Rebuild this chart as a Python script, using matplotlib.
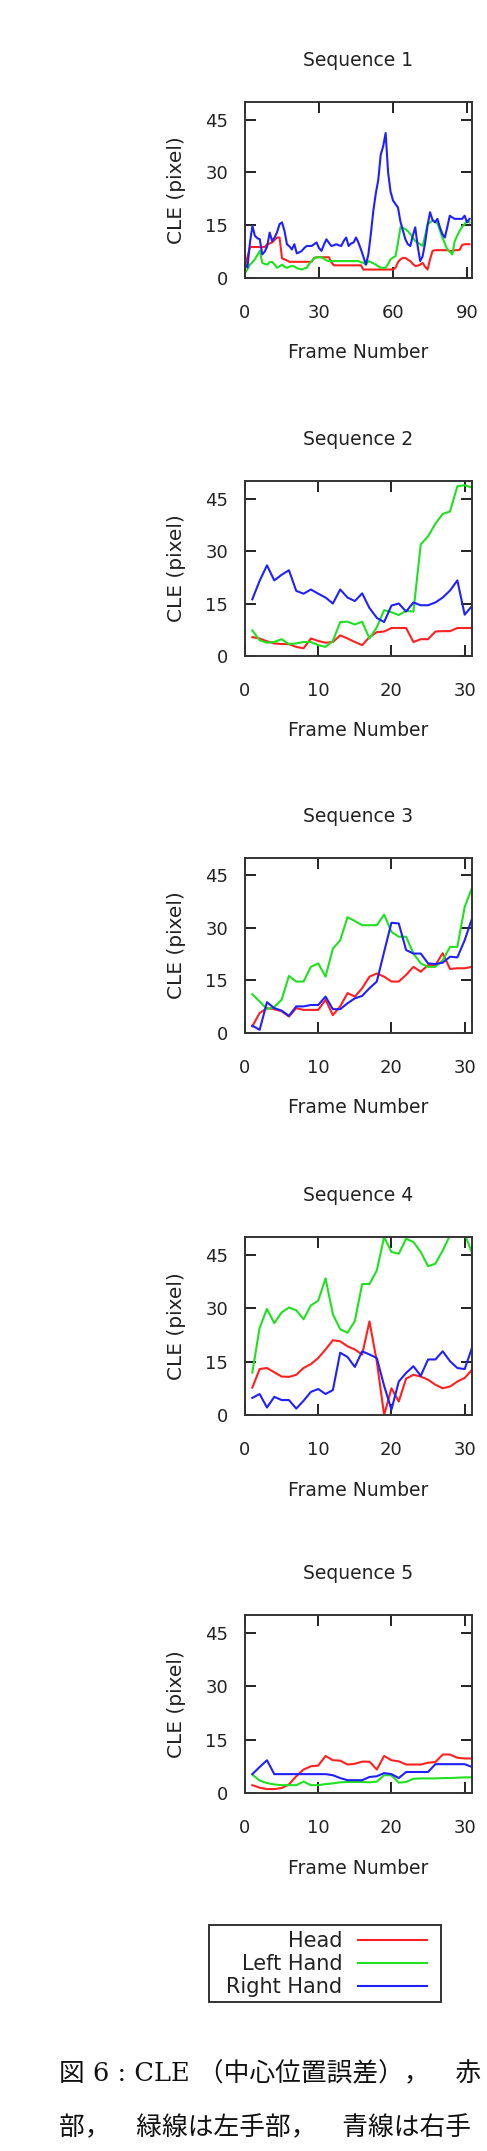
import numpy as np
import matplotlib.pyplot as plt
from matplotlib.patches import Rectangle

# CLE (pixel) per frame
seq1_head = [3, 6, 8.8, 8.8, 8.8, 8.8, 8.8, 8.8, 8.8, 9.6, 9.8, 10.1, 10.8, 11.5, 11.5, 5.6,
             5.3, 5, 4.6, 4.6, 4.6, 4.6, 4.6, 4.6, 4.6, 4.6, 4.6, 4.6, 5.7, 5.9, 5.9, 5.9,
             5.9, 5.9, 5.9, 4.5, 3.6, 3.6, 3.6, 3.6, 3.6, 3.6, 3.6, 3.6, 3.6, 3.6, 3.6, 3.6,
             2.4, 2.4, 2.4, 2.4, 2.4, 2.4, 2.4, 2.4, 2.4, 2.4, 2.4, 2.4, 2.4, 2.9, 4.5, 5.3,
             5.7, 5.7, 5.2, 4.8, 4, 3.4, 3.5, 3.8, 4.3, 3.2, 2.4, 5.3, 7.7, 7.9, 7.9, 7.9,
             7.9, 7.9, 7.9, 7.7, 7.7, 7.9, 7.9, 8, 9.4, 9.6, 9.6, 9.6]
seq1_left = [1.4, 2.5, 3.8, 4.5, 5.3, 6.5, 7.7, 4.3, 4, 3.8, 4.5, 4.6, 3.8, 2.9, 3.3, 3.8,
             3.2, 2.9, 3.2, 3.4, 3.3, 2.8, 2.6, 2.4, 2.7, 2.9, 4, 4.8, 5.5, 5.9, 5.9, 5.9,
             5.5, 5, 4.8, 4.8, 4.8, 4.8, 4.8, 4.8, 4.8, 4.8, 4.8, 4.8, 4.8, 4.8, 4.8, 4.5,
             4.3, 3.8, 4.8, 4.5, 4.2, 3.8, 3.3, 2.9, 2.9, 2.9, 4, 5.3, 5.8, 6.2, 10, 14.4,
             14.2, 13.9, 13.3, 12.5, 11.5, 10.5, 10, 9.6, 9.1, 12, 15.3, 15.8, 16.3, 16, 15.5, 13.5,
             11.5, 9.8, 8.1, 7.5, 6.7, 10.5, 12, 13.4, 14.5, 15.3, 16.3, 15.8]
seq1_right = [3.8, 3, 10, 14.8, 12, 11.3, 11, 6.7, 7.5, 9, 12.9, 10.5, 11.5, 13, 15.3, 15.8,
              13.4, 9.6, 9, 8.1, 9.6, 7, 7.3, 7.7, 8.5, 9.1, 9.1, 9.1, 9.6, 10.1, 8.5, 7.7,
              9.5, 11, 10, 9.1, 9.3, 9.6, 9.3, 9.1, 10.5, 11.5, 9.1, 9.8, 10.1, 11.5, 10, 8.1,
              6, 3.8, 6.7, 12.5, 19, 24, 27.8, 35, 37.4, 41.2, 30, 24.5, 22, 21, 20, 16,
              13.5, 11, 9.6, 9.1, 12, 14.4, 9, 4.8, 6.2, 10, 15, 18.7, 16.5, 15.8, 16.8, 14.4,
              12.5, 11.5, 14.5, 17.7, 17.2, 16.8, 16.8, 16.8, 16.8, 17.7, 15.8, 16.8]

seq2_head = [5.4, 5, 4.2, 3.6, 3.4, 3.4, 2.6, 2.2, 5, 4.3, 3.8, 4, 5.9, 5, 4, 3.1,
             5.4, 6.8, 7, 8, 8, 8, 4, 4.8, 4.8, 7, 7.1, 7.1, 8, 8, 8]
seq2_left = [7.3, 4.5, 3.8, 4, 4.8, 3.4, 3.6, 4, 4, 3.1, 2.6, 4.3, 9.7, 9.8, 9, 9.8,
             5, 8.2, 13.1, 12.5, 11.7, 12.9, 12.7, 31.9, 34.2, 37.8, 40.6, 41.3, 48.5, 48.8, 48.1]
seq2_right = [16.2, 21.5, 25.9, 21.6, 23.2, 24.5, 18.6, 17.8, 19, 17.8, 16.7, 15, 19, 16.7, 15.7, 17.9,
              13.7, 10.9, 9.7, 14.4, 15, 12.7, 15.3, 14.5, 14.5, 15.3, 16.7, 18.7, 21.6, 11.8, 14.3]

seq3_head = [1.9, 5.7, 7.1, 6.8, 6.2, 4.7, 7.1, 6.6, 6.6, 6.6, 9.5, 5.1, 7.6, 11.4, 10.4, 12.8,
             16.1, 17, 16.1, 14.7, 14.7, 16.6, 18.9, 17.5, 19.4, 19.4, 22.8, 18.3, 18.5, 18.5, 18.9]
seq3_left = [11.1, 9, 6.8, 7.4, 9.5, 16.3, 14.7, 14.7, 18.9, 19.9, 16.1, 24.1, 26.5, 33.1, 32, 30.8,
             30.8, 30.8, 33.8, 28.9, 27.5, 27.5, 22.7, 19.9, 18.9, 18.9, 20.8, 24.6, 24.6, 36, 41.5]
seq3_right = [2.1, 0.9, 8.8, 7.1, 6.4, 4.9, 7.6, 7.6, 8, 8, 10.4, 6.8, 6.8, 8.5, 9.9, 10.6,
              12.8, 14.7, 23.2, 31.5, 31.3, 23.7, 22.7, 22.7, 19.9, 19.7, 20.1, 21.8, 21.6, 26.5, 32.7]

seq4_head = [7.7, 12.9, 13.2, 12, 10.8, 10.7, 11.3, 13.2, 14.3, 16, 18.4, 21, 20.7, 19.3, 18.4, 17,
             26.3, 15, 0, 7.5, 3.8, 10.2, 11.3, 10.8, 9.9, 8.5, 7.5, 8, 9.4, 10.4, 12.7]
seq4_left = [11.9, 24.5, 29.8, 25.8, 28.8, 30.2, 29.4, 26.9, 30.8, 32.1, 38.4, 28.3, 24.1, 23.1, 26.4, 36.8,
             36.8, 40.6, 50, 45.8, 45.3, 49.5, 48.6, 45.8, 41.8, 42.5, 46.2, 50.5, 54, 51, 45.5]
seq4_right = [4.8, 5.9, 2.1, 5.1, 4.2, 4.2, 1.8, 4, 6.5, 7.3, 5.9, 7, 17.5, 16.3, 13.5, 17.9,
              17, 16, 8.2, 1.5, 9.4, 11.8, 13.7, 11, 15.6, 15.6, 17.9, 15.1, 13.2, 12.9, 18.9]

seq5_head = [2.2, 1.5, 1.1, 1.1, 1.4, 2.4, 4.7, 6.6, 7.5, 7.7, 10.4, 9.2, 9.1, 8, 8.2, 8.8,
             8.8, 6.6, 10.4, 9.2, 8.9, 8, 8, 8, 8.5, 8.7, 10.8, 10.8, 9.9, 9.7, 9.7]
seq5_left = [5.2, 3.5, 2.8, 2.4, 2.2, 2.2, 2.2, 3.2, 2.2, 2.2, 2.5, 2.7, 3, 3.1, 3.1, 3.1,
             3, 3.2, 5, 5, 2.9, 3.1, 4, 4.1, 4.1, 4.1, 4.2, 4.2, 4.3, 4.4, 4.4]
seq5_right = [5.3, 7.3, 9.2, 5.3, 5.3, 5.3, 5.3, 5.3, 5.3, 5.3, 5.3, 5, 4.2, 3.6, 3.6, 3.6,
              4.5, 4.7, 5.6, 5.3, 4.2, 5.9, 5.9, 5.9, 5.9, 8.1, 8.1, 8.1, 8.1, 8.1, 7.3]

titles = ['Sequence 1', 'Sequence 2', 'Sequence 3', 'Sequence 4', 'Sequence 5']
series_labels = ['Head', 'Left Hand', 'Right Hand']
colors = ['#ff2020', '#20e020', '#2020ff']
x_ticks = [[0, 30, 60, 90], [0, 10, 20, 30], [0, 10, 20, 30], [0, 10, 20, 30], [0, 10, 20, 30]]
x_max = [92, 31, 31, 31, 31]
y_ticks = [0, 15, 30, 45]

data = [
    (seq1_head, seq1_left, seq1_right),
    (seq2_head, seq2_left, seq2_right),
    (seq3_head, seq3_left, seq3_right),
    (seq4_head, seq4_left, seq4_right),
    (seq5_head, seq5_left, seq5_right),
]

W, H = 487, 2151
fig = plt.figure(figsize=(W / 100, H / 100), dpi=100)
txt = '#222222'

# axes frames in pixels (top, bottom)
frames = [(102, 278), (481, 656), (858, 1033), (1237, 1415), (1615, 1793)]
left_px, right_px = 245, 472

for i, (top, bot) in enumerate(frames):
    ax = fig.add_axes([left_px / W, 1 - bot / H, (right_px - left_px) / W, (bot - top) / H])
    for vals, c in zip(data[i], colors):
        x = np.arange(len(vals)) if i == 0 else np.arange(1, len(vals) + 1)
        ax.plot(x, vals, color=c, lw=1.5)
    ax.set_xlim(0, x_max[i])
    ax.set_ylim(0, 50)
    ax.set_xticks(x_ticks[i])
    ax.set_yticks(y_ticks)
    ax.tick_params(direction='in', length=8, width=1.4, top=True, right=True,
                   labelsize=13, colors=txt)
    ax.tick_params(axis='x', pad=19)
    ax.tick_params(axis='y', pad=12)
    for s in ax.spines.values():
        s.set_linewidth(1.4)
        s.set_color('#333333')
    ax.set_title(titles[i], fontsize=13.5, color=txt, pad=26)
    ax.set_xlabel('Frame Number', fontsize=13.5, color=txt)
    ax.xaxis.set_label_coords(0.5, -0.37)
    ax.xaxis.label.set_va('top')
    ax.set_ylabel('CLE (pixel)', fontsize=14.5, color=txt)
    ax.yaxis.set_label_coords(-0.26, 0.5)

# legend: text on the left, line sample on the right, boxed
handles = [plt.Line2D([], [], color=c, lw=1.5) for c in colors]
leg = fig.legend(handles, series_labels, loc='center right', bbox_to_anchor=(427 / W, 1 - 1964 / H),
                 markerfirst=False, frameon=False, handlelength=3.3, handletextpad=0.75,
                 labelspacing=0.15, borderpad=0, borderaxespad=0, fontsize=15)
for t in leg.get_texts():
    t.set_color(txt)
fig.patches.append(Rectangle((209 / W, 1 - 2002 / H), 232 / W, 77 / H, transform=fig.transFigure,
                             fill=False, edgecolor='#333333', lw=1.4))

cap_font = ['DejaVu Serif', 'Noto Sans CJK JP']
fig.text(59 / W, 1 - 2074 / H, '図 6 : CLE （中心位置誤差），　赤', family=cap_font,
         fontsize=18.5, va='center', ha='left', color='#111111')
fig.text(59 / W, 1 - 2128 / H, '部，　緑線は左手部，　青線は右手', family=cap_font,
         fontsize=18.5, va='center', ha='left', color='#111111')

fig.savefig('out.png', dpi=100)
